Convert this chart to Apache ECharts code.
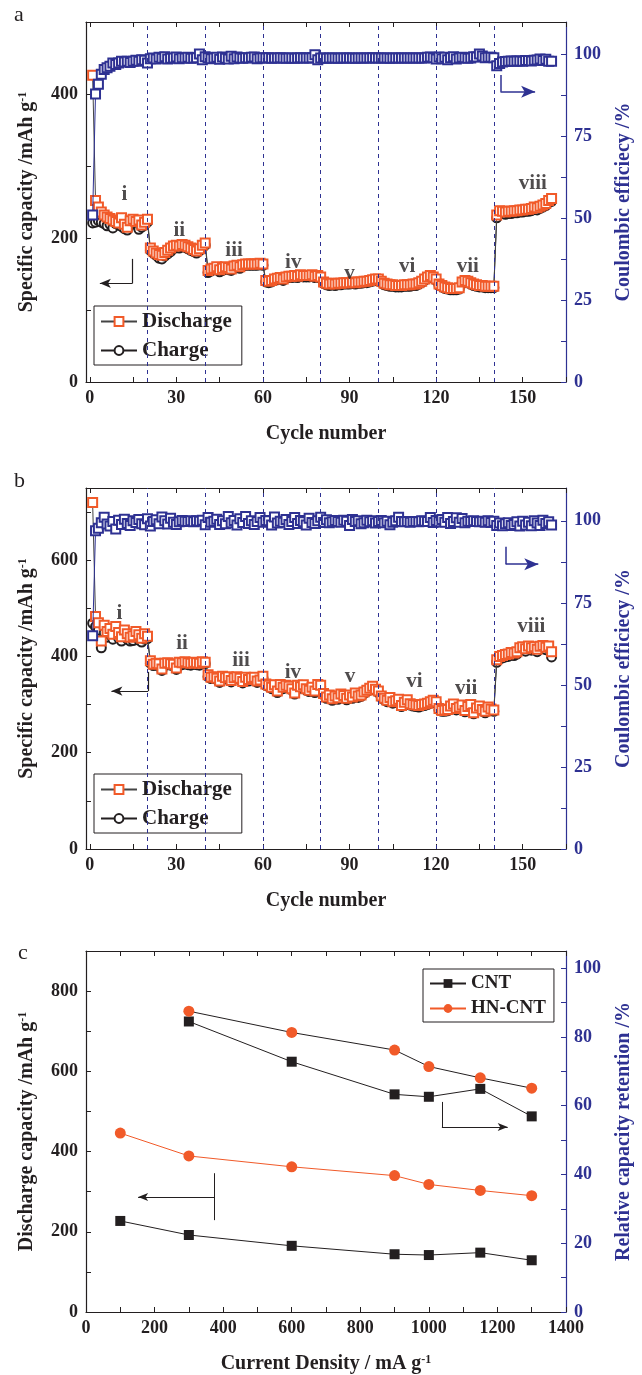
<!DOCTYPE html>
<html><head><meta charset="utf-8">
<script src="https://cdn.jsdelivr.net/npm/echarts@6/dist/echarts.min.js"></script>
<style>html,body{margin:0;padding:0;background:#fff}#c{width:642px;height:1375px}</style>
</head><body><div id="c"></div>
<script>
// ---------- DATA ----------
// Panel a (cycles 1..160)
const dischargeA = [426,252,243,236,232,229,227,225,223,221,228,219,215,224,226,223,225,218,222,226,
 186,182,179,177,176,180,183,186,189,190,189,191,190,188,186,184,182,185,190,193,
 155,157,158,160,156,158,160,159,157,161,162,160,163,164,164,164,164,164,165,164,
 141,140,141,143,144,145,143,146,147,147,148,147,149,148,148,148,149,147,148,146,
 139,137,136,137,136,137,137,138,138,138,139,138,139,139,140,140,141,142,143,143,
 140,137,136,135,135,134,134,134,135,135,135,136,136,138,140,143,146,148,146,143,
 136,134,132,131,130,130,130,131,139,141,140,138,136,135,134,134,133,133,133,133,
 232,238,237,236,237,237,238,238,239,239,240,240,241,243,242,244,246,248,252,255];
const chargeA = [221,222,224,222,220,217,219,214,220,218,216,213,211,218,221,219,212,215,218,222,
 183,179,176,172,171,175,178,181,185,187,186,188,187,185,183,181,179,182,187,190,
 152,154,156,157,153,155,157,156,155,158,160,158,161,162,162,162,162,162,163,162,
 139,138,139,141,142,143,141,144,145,145,146,145,147,146,146,146,147,145,146,144,
 137,135,134,135,134,135,135,136,136,136,137,136,137,137,138,138,139,140,141,141,
 138,135,134,133,133,132,132,132,133,133,133,134,134,136,138,141,144,146,144,141,
 134,132,130,129,128,128,128,129,137,139,138,136,134,133,132,132,131,131,131,131,
 228,234,234,233,234,234,235,235,236,236,237,237,238,240,239,241,243,245,249,251];
const ceA = [51,88,91,94,95.5,96,96.5,97.5,97,97.5,98,97.8,98,97.6,98,98.3,98,98.5,98.3,97.5,
 98.8,99.0,98.7,99.2,98.9,99.4,98.7,98.9,99.0,99.3,98.8,99.1,99.0,99.2,98.9,99.0,99.1,100.2,98.5,99.4,
 99.1,98.8,99.0,99.2,98.6,99.3,98.9,98.7,99.5,98.8,99.3,99.0,98.9,99.1,99.0,99.2,99.3,98.8,99.0,99.1,
 99.0,99.1,98.9,99.0,99.0,99.1,99.0,98.9,99.0,99.0,98.9,99.0,99.1,99.0,99.0,99.0,99.1,100.0,98.5,99.0,
 99.0,98.9,99.0,99.0,99.0,98.9,99.0,99.0,99.0,99.0,99.0,98.9,99.0,99.0,99.0,99.0,99.0,99.1,99.0,99.0,
 99.0,99.0,99.0,98.9,99.0,99.0,99.0,99.0,99.0,99.0,99.0,99.0,99.0,99.0,99.0,99.0,99.2,99.3,99.1,98.7,
 99.3,98.8,99.2,98.5,99.1,99.4,98.7,99.0,99.2,99.1,98.9,99.0,99.4,99.3,100.2,99.6,99.1,99.2,99.2,99.1,
 96.6,97.3,97.8,97.9,98.0,98.1,98.0,98.1,98.1,98.0,98.2,98.2,98.1,98.3,98.4,98.7,98.2,98.6,98.0,98.0];
// Panel b
const dischargeB = [720,483,470,432,465,452,458,446,462,450,441,455,447,440,443,452,445,438,447,442,
 391,384,386,385,374,386,387,385,384,376,388,387,389,387,386,388,387,386,389,388,
 362,357,358,355,349,359,356,358,350,356,358,355,348,357,352,356,357,349,351,359,
 343,340,336,341,328,342,336,340,338,333,324,340,337,341,333,330,336,328,342,340,
 323,316,320,312,318,314,322,319,313,320,316,324,318,320,326,330,334,338,332,328,
 318,313,309,315,306,308,311,298,305,310,302,300,299,298,300,301,303,306,309,306,
 292,288,289,290,297,301,292,295,299,288,296,300,283,293,297,290,286,295,291,289,
 393,400,402,404,405,408,407,410,418,420,416,422,418,420,415,421,423,419,422,410];
const chargeB = [469,462,455,418,450,440,445,436,448,438,432,442,436,432,433,441,434,430,436,437,
 386,381,382,382,371,383,383,382,381,373,384,383,385,383,382,384,383,382,385,385,
 358,354,355,352,346,356,353,355,347,353,355,352,345,354,349,353,354,346,348,355,
 340,337,333,338,325,339,333,337,335,330,322,337,334,338,330,327,333,325,339,337,
 320,313,317,309,315,311,319,316,310,317,313,321,315,317,323,327,331,335,329,325,
 315,310,306,312,303,305,308,296,302,307,299,297,296,295,297,298,300,303,306,303,
 289,286,286,287,294,298,289,292,296,285,293,297,281,290,294,287,283,292,288,286,
 388,395,397,399,400,403,402,405,413,415,411,417,413,415,410,416,418,414,417,399];
const ceB = [65,97.0,97.7,99.4,101.1,99.0,98.4,99.8,97.5,100.2,98.9,100.5,99.2,98.6,100.0,99.5,100.4,99.1,98.8,100.6,
 98.4,99.8,100.3,99.1,101.2,100.0,99.0,100.8,99.6,98.9,99.7,100.1,99.9,99.8,100.0,99.7,100.0,99.9,100.2,98.8,
 101.0,99.6,99.9,100.5,98.9,100.0,99.1,101.3,99.4,100.1,98.7,100.6,99.5,101.3,99.2,100.0,98.9,99.8,101.0,99.6,
 100.1,100.0,98.7,101.2,99.3,99.9,99.6,100.4,98.9,99.8,101.0,99.2,100.1,99.7,98.7,100.8,99.5,99.2,100.0,101.1,
 99.5,100.3,99.4,99.7,100.1,99.8,99.6,100.2,99.9,98.6,100.4,99.8,100.0,99.1,99.4,100.2,99.7,100.0,99.3,99.8,
 100.1,99.4,99.9,98.8,99.6,100.0,101.1,99.8,99.7,99.8,99.6,99.8,99.8,99.7,100.0,99.9,99.8,101.0,99.5,100.1,
 99.7,100.4,99.6,101.0,99.2,99.8,100.9,99.6,100.7,99.4,99.9,99.8,100.0,99.8,99.7,99.9,99.6,100.0,99.5,99.9,
 98.6,99.3,98.5,99.1,99.4,98.6,98.9,99.7,98.4,99.9,98.7,99.6,98.5,100.0,99.3,98.6,100.2,99.2,99.7,98.7];
// rate-step boundaries (cycle numbers)
const stepBoundaries = [20,40,60,80,100,120,140];
const romanA = [['i',12,260],['ii',31,210],['iii',50,183],['iv',70.5,166],['v',90,150],['vi',110,161],['vii',131,161],['viii',153.5,276]];
const romanB = [['i',10.3,490],['ii',32,427],['iii',52.4,391],['iv',70.4,366],['v',90.2,359],['vi',112.5,348],['vii',130.4,334],['viii',153,462]];
// Panel c
const currentDensity = [100,300,600,900,1000,1150,1300];
const capCNT   = [227,192,165,144,142,148,129];
const capHN    = [446,389,362,340,318,303,290];
const retCNT   = [null,84.5,72.8,63.3,62.6,64.9,56.9];
const retHN    = [null,87.5,81.3,76.2,71.4,68.1,65.1];
// tick labels
const cycleLabels = [0,30,60,90,120,150];
const cycleTicks = [0,15,30,45,60,75,90,105,120,135,150,165];
const ceLabels = [0,25,50,75,100];
const ceTicks = [0,12.5,25,37.5,50,62.5,75,87.5,100];
const capLabelsA = [0,200,400]; const capTicksA = [0,100,200,300,400,500];
const capLabelsB = [0,200,400,600]; const capTicksB = [0,100,200,300,400,500,600,700];
const capLabelsC = [0,200,400,600,800]; const capTicksC = [0,100,200,300,400,500,600,700,800,900];
const cdLabels = [0,200,400,600,800,1000,1200,1400]; const cdTicks = [0,100,200,300,400,500,600,700,800,900,1000,1100,1200,1300,1400];
const retLabels = [0,20,40,60,80,100]; const retTicks = [0,10,20,30,40,50,60,70,80,90,100];

// ---------- STYLE ----------
const FONT = 'Liberation Serif';
const NAVY = '#2e3192', ORANGE = '#f15a29', BLACK = '#231f20';
const grids = [
  {left:86, width:487, top:22, height:360},
  {left:86, width:487, top:488, height:361},
  {left:86, width:487, top:951, height:361}
];
const plain = v => String(v);
const supRich = (color)=>({sup:{fontSize:12, fontWeight:'bold', fontFamily:FONT, color:color, verticalAlign:'top'}});
function xPair(g, min, max, labels, ticks, topTicks, name){
  const bottom = {type:'value', gridIndex:g, position:'bottom', min:min, max:max,
    axisLine:{show:true, onZero:false, lineStyle:{color:BLACK, width:1.2}},
    axisTick:{show:true, inside:true, length:5, customValues:ticks, lineStyle:{color:BLACK}},
    axisLabel:{show:true, customValues:labels, formatter:plain, fontFamily:FONT, fontWeight:'bold', fontSize:18, color:BLACK, margin:7},
    splitLine:{show:false},
    name:name, nameLocation:'middle', nameGap:42,
    nameTextStyle:{fontFamily:FONT, fontWeight:'bold', fontSize:20, color:BLACK, rich:supRich(BLACK)}};
  const top = {type:'value', gridIndex:g, position:'top', min:min, max:max,
    axisLine:{show:true, onZero:false, lineStyle:{color:BLACK, width:1.2}},
    axisTick:{show:true, inside:true, length:5, customValues:topTicks, lineStyle:{color:BLACK}},
    axisLabel:{show:false}, splitLine:{show:false}};
  return [bottom, top];
}
function yPair(g, lmax, lLabels, lTicks, lName, rmax, rLabels, rTicks, rName){
  const left = {type:'value', gridIndex:g, position:'left', min:0, max:lmax,
    axisLine:{show:true, onZero:false, lineStyle:{color:BLACK, width:1.2}},
    axisTick:{show:true, inside:true, length:5, customValues:lTicks, lineStyle:{color:BLACK}},
    axisLabel:{customValues:lLabels, formatter:plain, fontFamily:FONT, fontWeight:'bold', fontSize:18, color:BLACK, margin:8},
    splitLine:{show:false},
    name:lName, nameLocation:'middle', nameRotate:90, nameGap:49,
    nameTextStyle:{fontFamily:FONT, fontWeight:'bold', fontSize:20, color:BLACK, rich:supRich(BLACK)}};
  const right = {type:'value', gridIndex:g, position:'right', min:0, max:rmax,
    axisLine:{show:true, onZero:false, lineStyle:{color:NAVY, width:1.2}},
    axisTick:{show:true, inside:true, length:5, customValues:rTicks, lineStyle:{color:NAVY}},
    axisLabel:{customValues:rLabels, formatter:plain, fontFamily:FONT, fontWeight:'bold', fontSize:18, color:NAVY, margin:8},
    splitLine:{show:false},
    name:rName, nameLocation:'middle', nameRotate:90, nameGap:48,
    nameTextStyle:{fontFamily:FONT, fontWeight:'bold', fontSize:20, color:NAVY}};
  return [left, right];
}
const xAxis = [].concat(
  xPair(0, -1.3, 165, cycleLabels, cycleTicks, cycleTicks, 'Cycle number'),
  xPair(1, -1.3, 165, cycleLabels, cycleTicks, cycleTicks, 'Cycle number'),
  xPair(2, 0, 1400, cdLabels, cdTicks, cdTicks, 'Current Density / mA g{sup|-1}')
);
const yAxis = [].concat(
  yPair(0, 500, capLabelsA, capTicksA, 'Specific capacity /mAh g{sup|-1}', 110, ceLabels, ceTicks, 'Coulombic efficiecy /%'),
  yPair(1, 750, capLabelsB, capTicksB, 'Specific capacity /mAh g{sup|-1}', 110, ceLabels, ceTicks, 'Coulombic efficiecy /%'),
  yPair(2, 900, capLabelsC, capTicksC, 'Discharge capacity /mAh g{sup|-1}', 105, retLabels, retTicks, 'Relative capacity retention /%')
);
const toXY = arr => arr.map((v,i)=>[i+1, v]);
const seg = (x1,y1,x2,y2,arrow)=>[{coord:[x1,y1], symbol:'none'},{coord:[x2,y2], symbol: arrow?'arrow':'none'}];
function cyclePanel(p, dis, chg, ce, roman, leftArrow, rightArrow){
  const xi = p*2, yl = p*2, yr = p*2+1;
  return [
    {name:'Charge', type:'line', xAxisIndex:xi, yAxisIndex:yl, data:toXY(chg), z:2,
     symbol:'emptyCircle', symbolSize:9, itemStyle:{color:BLACK, borderWidth:1},
     lineStyle:{color:BLACK, width:1},
     markLine:{silent:true, symbolSize:[7,11], lineStyle:{color:BLACK, width:1.2, type:'solid'}, label:{show:false}, data:leftArrow}},
    {name:'Discharge', type:'line', xAxisIndex:xi, yAxisIndex:yl, data:toXY(dis), z:3,
     symbol:'emptyRect', symbolSize:9, itemStyle:{color:ORANGE, borderWidth:1.2},
     lineStyle:{color:'#444', width:1},
     markLine:{silent:true, symbol:'none', lineStyle:{color:NAVY, width:1, type:[4,4]}, label:{show:false},
       data:stepBoundaries.map(v=>({xAxis:v}))}},
    {name:'CE'+p, type:'line', xAxisIndex:xi, yAxisIndex:yr, data:toXY(ce), z:4,
     symbol:'emptyRect', symbolSize:9, itemStyle:{color:NAVY, borderWidth:1.2},
     lineStyle:{color:NAVY, width:1},
     markLine:{silent:true, symbolSize:[9,14], lineStyle:{color:NAVY, width:1.5, type:'solid'}, label:{show:false}, data:rightArrow}},
    {name:'roman'+p, type:'scatter', xAxisIndex:xi, yAxisIndex:yl, z:5, silent:true,
     symbolSize:0.1, itemStyle:{color:'rgba(0,0,0,0)'},
     data:roman.map(r=>({name:r[0], value:[r[1], r[2]]})),
     label:{show:true, position:'inside', formatter:'{b}', fontFamily:FONT, fontWeight:'bold', fontSize:21, color:BLACK}}
  ];
}
const seriesA = cyclePanel(0, dischargeA, chargeA, ceA, romanA,
  [seg(14.8,171,14.8,137,false), seg(14.8,137,3.5,137,true)],
  [seg(142.3,93.8,142.3,88.7,false), seg(142.3,88.7,154.3,88.7,true)]);
const seriesB = cyclePanel(1, dischargeB, chargeB, ceB, romanB,
  [seg(20.2,368,20.2,328,false), seg(20.2,328,7.5,328,true)],
  [seg(144.1,92.1,144.1,86.8,false), seg(144.1,86.8,155.4,86.8,true)]);
const cdXY = arr => currentDensity.map((x,i)=>[x, arr[i]]).filter(d=>d[1]!==null);
const seriesC = [
  {name:'CNT', type:'line', xAxisIndex:4, yAxisIndex:4, data:cdXY(capCNT), symbol:'rect', symbolSize:10,
   itemStyle:{color:BLACK}, lineStyle:{color:BLACK, width:1},
   markLine:{silent:true, symbolSize:[6,10], lineStyle:{color:BLACK, width:1, type:'solid'}, label:{show:false},
     data:[seg(374,346,374,229,false), seg(374,287,152,287,true)]}},
  {name:'HN-CNT', type:'line', xAxisIndex:4, yAxisIndex:4, data:cdXY(capHN), symbol:'circle', symbolSize:11,
   itemStyle:{color:ORANGE}, lineStyle:{color:ORANGE, width:1}},
  {name:'CNT', type:'line', xAxisIndex:4, yAxisIndex:5, data:cdXY(retCNT), symbol:'rect', symbolSize:10,
   itemStyle:{color:BLACK}, lineStyle:{color:BLACK, width:1},
   markLine:{silent:true, symbolSize:[6,10], lineStyle:{color:BLACK, width:1, type:'solid'}, label:{show:false},
     data:[seg(1038,61.1,1038,53.8,false), seg(1038,53.8,1230,53.8,true)]}},
  {name:'HN-CNT', type:'line', xAxisIndex:4, yAxisIndex:5, data:cdXY(retHN), symbol:'circle', symbolSize:11,
   itemStyle:{color:ORANGE}, lineStyle:{color:BLACK, width:1}}
];
const legendBase = {orient:'vertical', borderColor:BLACK, borderWidth:1, borderRadius:0, backgroundColor:'#fff',
  itemWidth:36, itemHeight:11, selectedMode:false,
  textStyle:{fontFamily:FONT, fontWeight:'bold', fontSize:21, color:BLACK}};
const option = {
  animation:false,
  backgroundColor:'#fff',
  grid:grids,
  xAxis:xAxis, yAxis:yAxis,
  legend:[
    Object.assign({}, legendBase, {left:94, top:306, padding:[5,10,4,6], itemGap:8, data:['Discharge','Charge']}),
    Object.assign({}, legendBase, {left:94, top:774, padding:[5,10,4,6], itemGap:8, data:['Discharge','Charge']}),
    Object.assign({}, legendBase, {left:423, top:969, padding:[5,8,4,6], itemGap:6, data:['CNT','HN-CNT'],
      textStyle:{fontFamily:FONT, fontWeight:'bold', fontSize:19, color:BLACK}})
  ],
  graphic:[
    {type:'text', left:14, top:4, style:{text:'a', fontFamily:FONT, fontSize:22, fill:BLACK}},
    {type:'text', left:14, top:470, style:{text:'b', fontFamily:FONT, fontSize:22, fill:BLACK}},
    {type:'text', left:18, top:942, style:{text:'c', fontFamily:FONT, fontSize:22, fill:BLACK}}
  ],
  series:[].concat(seriesA, seriesB, seriesC)
};
const chart = echarts.init(document.getElementById('c'), null, {renderer:'canvas'});
chart.setOption(option);
</script>
</body></html>
